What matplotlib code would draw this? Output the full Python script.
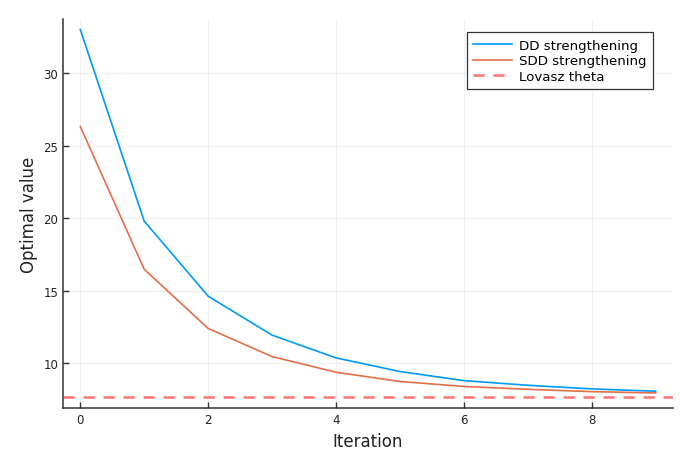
import matplotlib
matplotlib.use("Agg")
import matplotlib.pyplot as plt
import numpy as np

iterations = np.arange(10)
dd_values = [33.03, 19.8, 14.62, 11.93, 10.36, 9.42, 8.79, 8.47, 8.22, 8.06]
sdd_values = [26.33, 16.48, 12.39, 10.45, 9.37, 8.73, 8.39, 8.19, 8.03, 7.94]
lovasz_theta = 7.63

blue = "#009afa"
orange = "#e36f47"
red = "#ff7373"

fig = plt.figure(figsize=(6.82, 4.56), dpi=100)
ax = fig.add_axes([0.0924, 0.1024, 0.8944, 0.8536])

ax.plot(iterations, dd_values, color=blue, lw=1.2, label="DD strengthening")
ax.plot(iterations, sdd_values, color=orange, lw=1.2, label="SDD strengthening")
ax.axhline(lovasz_theta, color=red, lw=1.8, ls=(0, (4.5, 3.5)), label="Lovasz theta")

ax.set_xlim(-0.27, 9.27)
ax.set_ylim(6.88, 33.75)
ax.set_xticks([0, 2, 4, 6, 8])
ax.set_yticks([10, 15, 20, 25, 30])

ax.grid(True, color="#000000", alpha=0.06, lw=0.8)
ax.spines['top'].set_visible(False)
ax.spines['right'].set_visible(False)
for s in ('left', 'bottom'):
    ax.spines[s].set_linewidth(1.1)
    ax.spines[s].set_color("#333333")
ax.tick_params(direction='in', length=4, width=1, labelsize=8.5, colors="#333333",
               labelcolor="#222222")

ax.set_xlabel("Iteration", fontsize=12, color="#222222")
ax.set_ylabel("Optimal value", fontsize=12, color="#222222")

leg = ax.legend(loc='upper right', bbox_to_anchor=(0.967, 0.966), fontsize=9.6,
                fancybox=False, framealpha=1, edgecolor="#333333",
                handlelength=2.9, borderpad=0.5, labelspacing=0.18, handletextpad=0.5,
                borderaxespad=0.0)
leg.get_frame().set_linewidth(0.9)

plt.savefig("out.png", dpi=100, facecolor="white")
plt.close()
